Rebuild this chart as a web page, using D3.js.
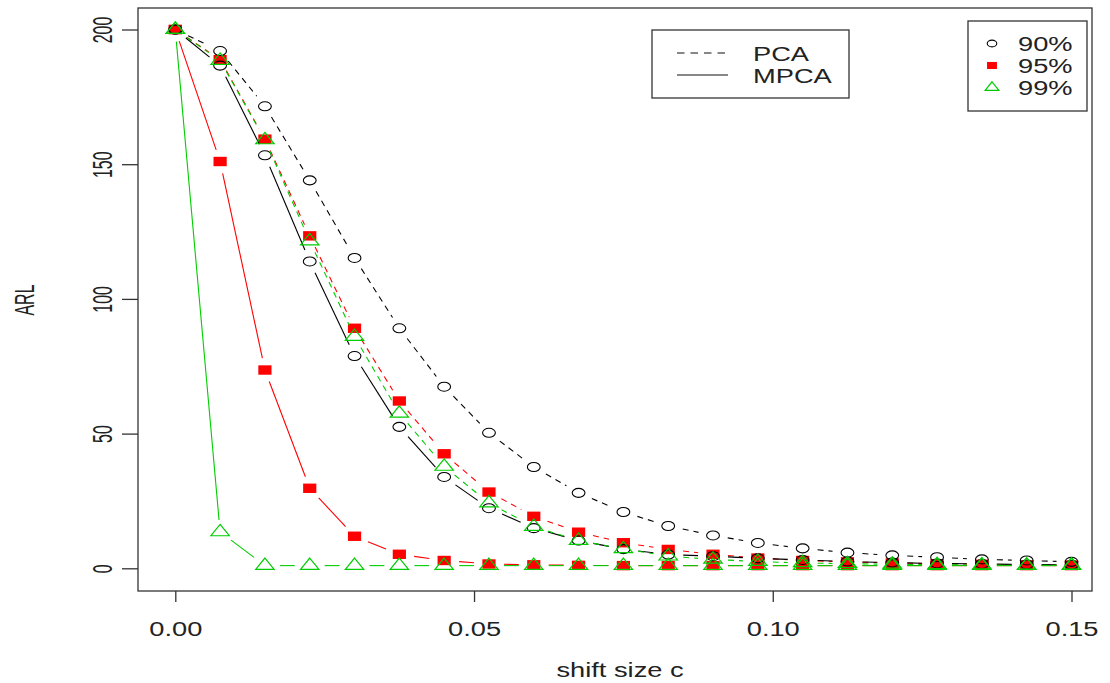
<!DOCTYPE html>
<html>
<head>
<meta charset="utf-8">
<script src="https://cdn.jsdelivr.net/npm/d3@7"></script>
<style>
  body { margin: 0; background: #fff; }
  svg { display: block; }
  text { font-family: "Liberation Sans", Arial, Helvetica, sans-serif; fill: #222; }
</style>
</head>
<body>
<svg id="chart" width="1110" height="683"></svg>
<script>
// Shift sizes c on the horizontal axis
const shift = [0, 0.0075, 0.015, 0.0225, 0.03, 0.0375, 0.045, 0.0525, 0.06, 0.0675, 0.075,
               0.0825, 0.09, 0.0975, 0.105, 0.1125, 0.12, 0.1275, 0.135, 0.1425, 0.15];

// ARL values, PCA (dashed) and MPCA (solid) charts at three control levels
const pca90  = [200, 192.0, 171.5, 144.0, 115.2, 89.1, 67.4, 50.3, 37.6, 28.0, 20.9,
                15.7, 12.2, 9.4, 7.4, 5.8, 4.8, 4.1, 3.3, 2.9, 2.4];
const mpca90 = [200, 186.6, 153.3, 113.9, 78.8, 52.5, 33.9, 22.3, 14.9, 10.3, 7.1,
                5.1, 4.5, 3.7, 3.1, 2.5, 2.1, 1.8, 1.6, 1.4, 1.3];
const pca95  = [200, 188.8, 159.3, 123.4, 89.1, 62.1, 42.5, 28.3, 19.3, 13.4, 9.5,
                7.0, 5.2, 3.8, 2.9, 2.4, 2.0, 1.7, 1.5, 1.3, 1.2];
const mpca95 = [200, 151.0, 73.6, 29.7, 11.9, 5.2, 2.9, 1.6, 1.3, 1.1, 1.0,
                1.0, 1.0, 1.0, 1.0, 1.0, 1.0, 1.0, 1.0, 1.0, 1.0];
const pca99  = [200, 188.5, 159.0, 121.5, 86.0, 57.5, 37.8, 24.2, 15.5, 10.3, 7.2,
                4.5, 3.3, 2.5, 2.0, 1.7, 1.5, 1.3, 1.2, 1.1, 1.1];
const mpca99 = [200, 13.5, 1.0, 1.0, 1.0, 1.0, 1.0, 1.0, 1.0, 1.0, 1.0,
                1.0, 1.0, 1.0, 1.0, 1.0, 1.0, 1.0, 1.0, 1.0, 1.0];

// Axis ticks and labels
const xTicks = [0, 0.05, 0.10, 0.15];
const xTickLabels = ["0.00", "0.05", "0.10", "0.15"];
const yTicks = [0, 50, 100, 150, 200];
const yTickLabels = ["0", "50", "100", "150", "200"];

// Legend entries
const methodNames = ["PCA", "MPCA"];
const levelNames = ["90%", "95%", "99%"];

const svg = d3.select("#chart");
const box = { left: 138, right: 1092, top: 8, bottom: 591 };
const x = d3.scaleLinear().domain([0, 0.15]).range([175.3, 1071.5]);
const y = d3.scaleLinear().domain([0, 200]).range([568.3, 29.5]);

const RED = "#ff0000", GREEN = "#00cd00", BLACK = "#000000";
const TXT_SX = 1.33;   // horizontal widening of the lettering
const FS = 20.5;

const series = [
  { values: pca95,  color: RED,   symbol: "square",   dashed: true  },
  { values: mpca95, color: RED,   symbol: "square",   dashed: false },
  { values: pca90,  color: BLACK, symbol: "circle",   dashed: true  },
  { values: mpca90, color: BLACK, symbol: "circle",   dashed: false },
  { values: pca99,  color: GREEN, symbol: "triangle", dashed: true  },
  { values: mpca99, color: GREEN, symbol: "triangle", dashed: false }
];

// Plot frame
svg.append("rect")
  .attr("x", box.left).attr("y", box.top)
  .attr("width", box.right - box.left).attr("height", box.bottom - box.top)
  .attr("fill", "none").attr("stroke", "#333").attr("stroke-width", 1.3);

// Bottom axis
const gx = svg.append("g").attr("transform", `translate(0,${box.bottom})`)
  .call(d3.axisBottom(x).tickValues(xTicks).tickSize(11)
        .tickFormat((d, i) => xTickLabels[i]));
gx.select(".domain").remove();
gx.selectAll(".tick line").attr("stroke", "#333").attr("stroke-width", 1.3);
gx.selectAll(".tick text")
  .attr("y", 45).attr("dy", null)
  .attr("transform", `scale(${TXT_SX},1)`)
  .attr("font-size", FS).attr("fill", "#222")
  .style("font-family", "'Liberation Sans', Arial, sans-serif");

// Left axis (labels run vertically)
const gy = svg.append("g").attr("transform", `translate(${box.left},0)`)
  .call(d3.axisLeft(y).tickValues(yTicks).tickSize(16)
        .tickFormat((d, i) => yTickLabels[i]));
gy.select(".domain").remove();
gy.selectAll(".tick line").attr("stroke", "#333").attr("stroke-width", 1.3);
gy.selectAll(".tick text")
  .attr("x", null).attr("dy", null)
  .attr("text-anchor", "middle")
  .attr("transform", "translate(-26,0) scale(1.7,1) rotate(-90)")
  .attr("font-size", 16).attr("fill", "#222")
  .style("font-family", "'Liberation Sans', Arial, sans-serif");

// Axis titles
svg.append("text")
  .attr("transform", `translate(620,677) scale(${TXT_SX},1)`)
  .attr("text-anchor", "middle").attr("font-size", FS)
  .text("shift size c");
svg.append("text")
  .attr("transform", "translate(34,300) scale(1.7,1) rotate(-90)")
  .attr("text-anchor", "middle").attr("font-size", 16)
  .text("ARL");

// Lines between points, leaving a gap around each marker
const GAP_X = 15, GAP_Y = 12;
function gappedSegments(vals) {
  const segs = [];
  for (let i = 1; i < vals.length; i++) {
    const x0 = x(shift[i - 1]), y0 = y(vals[i - 1]);
    const x1 = x(shift[i]), y1 = y(vals[i]);
    const dx = x1 - x0, dy = y1 - y0;
    const L = Math.hypot(dx / GAP_X, dy / GAP_Y);
    if (L > 2) {
      segs.push({ x1: x0 + dx / L, y1: y0 + dy / L, x2: x1 - dx / L, y2: y1 - dy / L });
    }
  }
  return segs;
}

const trianglePath = "M0,-7.6 L9.2,3.8 L-9.2,3.8 Z";

function drawMarker(g, symbol, color, cx, cy, scale) {
  const s = scale || 1;
  if (symbol === "circle") {
    g.append("ellipse").attr("cx", cx).attr("cy", cy)
      .attr("rx", 6.4 * s).attr("ry", 4.5 * s)
      .attr("fill", "none").attr("stroke", color).attr("stroke-width", 1.1);
  } else if (symbol === "square") {
    g.append("rect").attr("x", cx - 6.6 * s).attr("y", cy - 4.7 * s)
      .attr("width", 13.2 * s).attr("height", 9.4 * s).attr("fill", color);
  } else {
    g.append("path").attr("d", trianglePath)
      .attr("transform", `translate(${cx},${cy}) scale(${s})`)
      .attr("fill", "none").attr("stroke", color).attr("stroke-width", 1.2 / s);
  }
}

series.forEach(s => {
  const g = svg.append("g");
  g.selectAll("line").data(gappedSegments(s.values)).join("line")
    .attr("x1", d => d.x1).attr("y1", d => d.y1)
    .attr("x2", d => d.x2).attr("y2", d => d.y2)
    .attr("stroke", s.color).attr("stroke-width", 1.1)
    .attr("stroke-dasharray", s.dashed ? "6,5" : null);
  s.values.forEach((v, i) => drawMarker(g, s.symbol, s.color, x(shift[i]), y(v)));
});

// Legend: line types
const lg1 = svg.append("g");
lg1.append("rect").attr("x", 652).attr("y", 30).attr("width", 197).attr("height", 68)
  .attr("fill", "#fff").attr("stroke", "#333").attr("stroke-width", 1.3);
methodNames.forEach((name, i) => {
  const yy = 53 + i * 22;
  lg1.append("line").attr("x1", 677).attr("x2", 728).attr("y1", yy).attr("y2", yy)
    .attr("stroke", "#111").attr("stroke-width", 1.1)
    .attr("stroke-dasharray", i === 0 ? "7.5,6" : null);
  lg1.append("text")
    .attr("transform", `translate(753,${yy + 7.5}) scale(${TXT_SX},1)`)
    .attr("font-size", FS).text(name);
});

// Legend: control levels
const lg2 = svg.append("g");
lg2.append("rect").attr("x", 968).attr("y", 21).attr("width", 119).attr("height", 90)
  .attr("fill", "#fff").attr("stroke", "#333").attr("stroke-width", 1.3);
const legendSymbols = [["circle", BLACK], ["square", RED], ["triangle", GREEN]];
levelNames.forEach((name, i) => {
  const yy = 43.5 + i * 22;
  drawMarker(lg2, legendSymbols[i][0], legendSymbols[i][1], 992, yy, 0.75);
  lg2.append("text")
    .attr("transform", `translate(1018,${yy + 7.5}) scale(${TXT_SX},1)`)
    .attr("font-size", FS).text(name);
});
</script>
</body>
</html>
